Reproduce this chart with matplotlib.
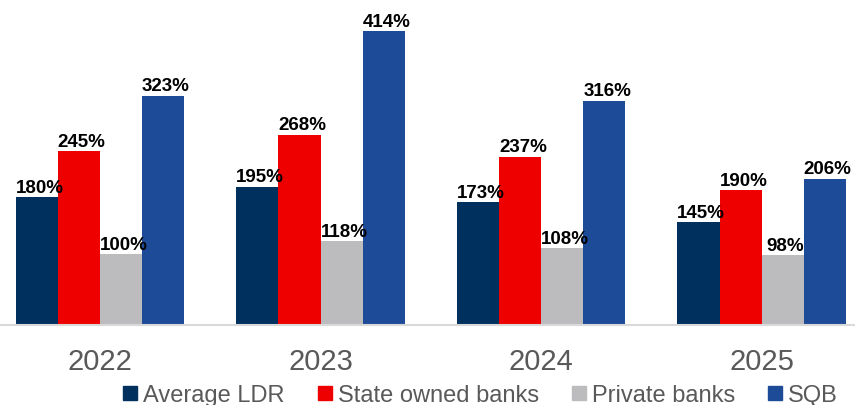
import numpy as np
import matplotlib.pyplot as plt

plt.rcParams['font.family'] = ['Liberation Sans', 'DejaVu Sans']

# Daten
years = ['2022', '2023', '2024', '2025']
series_names = ['Average LDR', 'State owned banks', 'Private banks', 'SQB']
average_ldr = [180, 195, 173, 145]
state_owned = [245, 268, 237, 190]
private_banks = [100, 118, 108, 98]
sqb = [323, 414, 316, 206]
colors = ['#00305E', '#EE0000', '#BCBCBE', '#1E4B97']

fig = plt.figure(figsize=(8.55, 4.06), dpi=100)
ax = fig.add_axes([0, 80 / 406, 1, 326 / 406])

x = np.arange(len(years))
w = 0.191
all_series = [average_ldr, state_owned, private_banks, sqb]
for i, (vals, name, c) in enumerate(zip(all_series, series_names, colors)):
    pos = x + (i - 1.5) * w
    ax.bar(pos, vals, width=w, color=c, label=name, zorder=2)
    for p, v in zip(pos, vals):
        ax.annotate(f'{v}%', (p, v), xytext=(2, 1), textcoords='offset points',
                    ha='center', va='bottom', fontsize=13.5, fontweight='bold', color='black')

ax.set_xlim(-0.453, 3.423)
ax.set_ylim(0, 459)
ax.set_yticks([])
ax.set_xticks(x)
ax.set_xticklabels(years, fontsize=21, color='#595959')
ax.tick_params(axis='x', length=0, pad=15.5)
for s in ['top', 'right', 'left']:
    ax.spines[s].set_visible(False)
ax.spines['bottom'].set_color('#D9D9D9')
ax.spines['bottom'].set_linewidth(1.5)

handles = [plt.Line2D([], [], marker='s', linestyle='', markersize=9.4, color=c) for c in colors]
fig.legend(handles, series_names, loc='center', bbox_to_anchor=(0.562, 10 / 406), ncol=4,
           frameon=False, fontsize=17, labelcolor='#595959', handletextpad=0.25,
           columnspacing=1.4, handlelength=0.6, borderpad=0, borderaxespad=0)

fig.savefig('out.png', dpi=100)
